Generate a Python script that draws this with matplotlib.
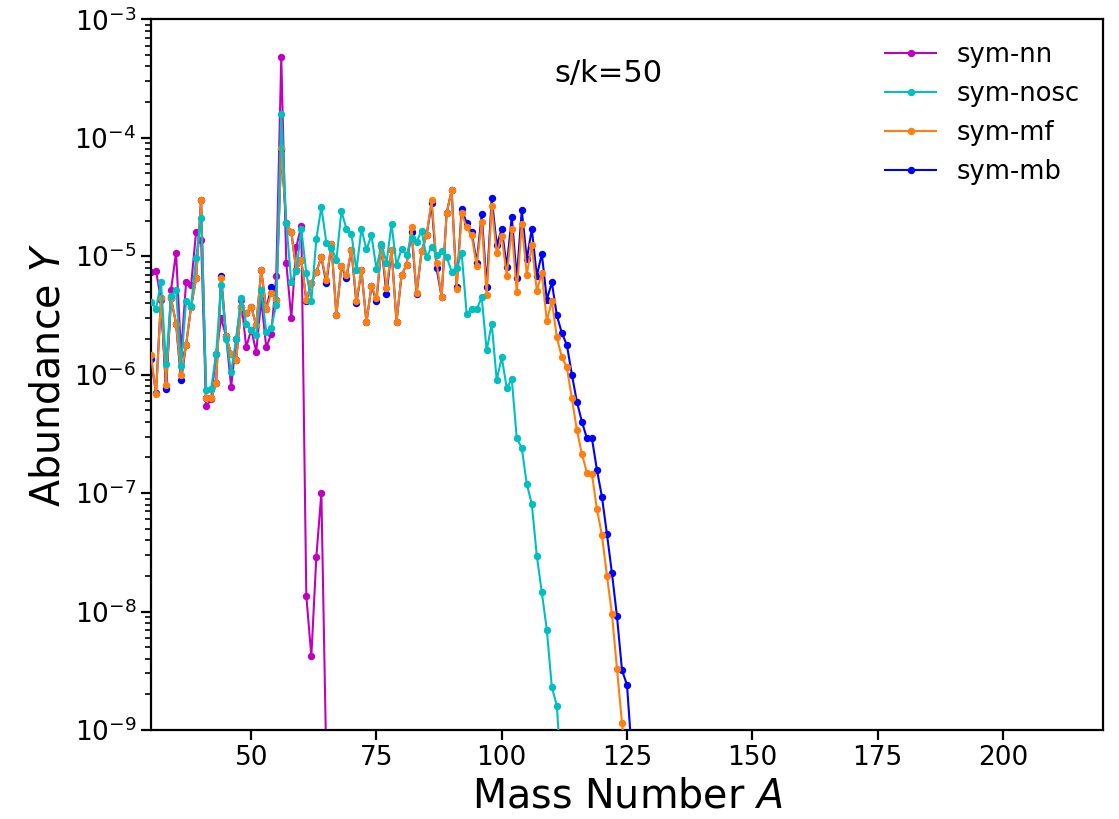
import matplotlib
matplotlib.use("Agg")
import matplotlib.pyplot as plt

# Mass numbers
A_nn = list(range(30, 66))
A_nosc = list(range(30, 113))
A_mf = list(range(30, 126))
A_mb = list(range(30, 127))

Y_nn = [7.3e-6, 7.5e-6, 4.3e-6, 7.7e-7, 5.2e-6, 1.07e-5, 1.5e-6, 6.0e-6, 5.7e-6, 1.6e-5,
        1.37e-5, 5.4e-7, 6.2e-7, 1.5e-6, 3.0e-6, 2.1e-6, 7.9e-7, 2.0e-6, 4.3e-6, 1.7e-6,
        2.4e-6, 1.56e-6, 4.3e-6, 1.7e-6, 2.2e-6, 6.8e-6, 4.8e-4, 8.8e-6, 3.0e-6, 1.2e-5,
        1.8e-5, 1.35e-8, 4.2e-9, 2.9e-8, 1.0e-7, 5e-10]

Y_nosc = [4.13e-6, 3.6e-6, 6.0e-6, 1.22e-6, 4.6e-6, 5.2e-6, 1.18e-6, 4.2e-6, 3.8e-6, 9.7e-6,
          2.1e-5, 7.4e-7, 7.6e-7, 1.5e-6, 5.7e-6, 2.0e-6, 1.05e-6, 2.0e-6, 4.4e-6, 2.7e-6,
          2.4e-6, 2.16e-6, 5.2e-6, 2.3e-6, 2.5e-6, 3.9e-6, 1.6e-4, 1.9e-5, 6.0e-6, 7.5e-6,
          1.7e-5, 7.2e-6, 4.2e-6, 1.4e-5, 2.6e-5, 1.3e-5, 1.18e-5, 9.3e-6, 2.4e-5, 1.7e-5,
          1.54e-5, 7.6e-6, 1.7e-5, 1.14e-5, 1.5e-5, 7.8e-6, 1.27e-5, 8.8e-6, 1.87e-5, 8.4e-6,
          1.15e-5, 1.02e-5, 1.43e-5, 1.33e-5, 1.63e-5, 9.8e-6, 1.2e-5, 1.02e-5, 1.1e-5, 9.9e-6,
          7.4e-6, 8.0e-6, 1.06e-5, 3.25e-6, 3.6e-6, 3.55e-6, 4.5e-6, 1.6e-6, 2.7e-6, 9.0e-7,
          1.4e-6, 7.7e-7, 9.2e-7, 2.9e-7, 2.4e-7, 1.19e-7, 8.1e-8, 2.95e-8, 1.45e-8, 7e-9,
          2.3e-9, 1.6e-9, 3.5e-10]

Y_mf = [1.47e-6, 6.8e-7, 4.4e-6, 8.2e-7, 4.4e-6, 2.7e-6, 9.9e-7, 1.78e-6, 3.75e-6, 6.5e-6,
        3.0e-5, 6.3e-7, 6.3e-7, 8.5e-7, 6.5e-6, 2.1e-6, 1.5e-6, 1.33e-6, 3.75e-6, 3.3e-6,
        3.75e-6, 2.6e-6, 7.6e-6, 3.55e-6, 4.9e-6, 4.3e-6, 8.2e-5, 1.9e-5, 1.6e-5, 7.6e-6,
        9.2e-6, 4.3e-6, 5.9e-6, 7.4e-6, 9.8e-6, 6.3e-6, 1.27e-5, 3.2e-6, 8.2e-6, 6.9e-6,
        1.13e-5, 4.2e-6, 7.6e-6, 2.76e-6, 5.6e-6, 4.4e-6, 1.22e-5, 5.4e-6, 1.13e-5, 2.8e-6,
        6.9e-6, 8.5e-6, 1.75e-5, 4.9e-6, 1.1e-5, 1.5e-5, 3.0e-5, 8.8e-6, 4.55e-6, 2.3e-5,
        3.6e-5, 5.3e-6, 2.3e-5, 1.75e-5, 1.5e-5, 8.3e-6, 1.95e-5, 4.7e-6, 2.65e-5, 1.06e-5,
        1.48e-5, 6.8e-6, 1.7e-5, 4.95e-6, 1.87e-5, 7.0e-6, 1.24e-5, 5.1e-6, 7.2e-6, 2.84e-6,
        4.2e-6, 2.06e-6, 1.4e-6, 1.15e-6, 6.3e-7, 3.4e-7, 2.14e-7, 1.49e-7, 1.45e-7, 7.3e-8,
        4.4e-8, 2.0e-8, 9.5e-9, 3.3e-9, 1.14e-9, 5e-10]

Y_mb = [1.35e-6, 7.0e-7, 4.4e-6, 7.5e-7, 4.4e-6, 2.7e-6, 9.0e-7, 1.78e-6, 3.75e-6, 6.5e-6,
        3.0e-5, 6.3e-7, 6.3e-7, 8.5e-7, 6.8e-6, 2.1e-6, 1.5e-6, 1.33e-6, 3.75e-6, 3.3e-6,
        3.75e-6, 2.6e-6, 7.6e-6, 3.55e-6, 5.5e-6, 4.3e-6, 8.0e-5, 1.9e-5, 1.6e-5, 7.6e-6,
        9.2e-6, 4.2e-6, 5.9e-6, 7.4e-6, 9.8e-6, 5.9e-6, 1.27e-5, 3.2e-6, 8.2e-6, 6.6e-6,
        1.13e-5, 4.0e-6, 7.6e-6, 2.76e-6, 5.6e-6, 4.2e-6, 1.22e-5, 4.8e-6, 1.13e-5, 2.8e-6,
        6.9e-6, 8.5e-6, 1.6e-5, 4.8e-6, 1.1e-5, 1.5e-5, 2.8e-5, 7.9e-6, 4.55e-6, 2.3e-5,
        3.6e-5, 5.5e-6, 2.5e-5, 1.9e-5, 1.6e-5, 8.8e-6, 2.25e-5, 5.5e-6, 3.1e-5, 1.24e-5,
        1.7e-5, 8.1e-6, 2.16e-5, 6.5e-6, 2.45e-5, 9.4e-6, 1.7e-5, 6.8e-6, 1.05e-5, 4.3e-6,
        6.0e-6, 3.16e-6, 2.24e-6, 1.78e-6, 1.0e-6, 5.9e-7, 4.0e-7, 2.9e-7, 2.9e-7, 1.57e-7,
        9.3e-8, 4.5e-8, 2.1e-8, 9.1e-9, 3.2e-9, 2.4e-9, 6e-10]

labels = ["sym-nn", "sym-nosc", "sym-mf", "sym-mb"]
colors = ["#bf00bf", "#00bfbf", "#ff7f0e", "#0000ff"]

fig = plt.figure(figsize=(11.19, 8.19), dpi=100)
ax = fig.add_axes([151 / 1119, 1 - 730 / 819, (1103 - 151) / 1119, (730 - 19.3) / 819])

lw = 1.5
ms = 4.3
h_nn, = ax.plot(A_nn, Y_nn, '-o', color=colors[0], lw=lw, ms=ms, label=labels[0], zorder=2)
h_mb, = ax.plot(A_mb, Y_mb, '-o', color=colors[3], lw=lw, ms=ms, label=labels[3], zorder=3)
h_mf, = ax.plot(A_mf, Y_mf, '-o', color=colors[2], lw=lw, ms=ms, label=labels[2], zorder=4)
h_nosc, = ax.plot(A_nosc, Y_nosc, '-o', color=colors[1], lw=lw, ms=ms, label=labels[1], zorder=5)

ax.set_yscale('log')
ax.set_xlim(30, 220)
ax.set_ylim(1e-9, 1e-3)
ax.set_xticks([50, 75, 100, 125, 150, 175, 200])

ax.tick_params(axis='both', which='major', labelsize=19, length=7, width=1.6)
ax.tick_params(axis='both', which='minor', length=4, width=1.2)
for s in ax.spines.values():
    s.set_linewidth(1.6)

ax.set_xlabel("Mass Number $A$", fontsize=28.5)
ax.set_ylabel("Abundance $Y$", fontsize=28.5)

ax.text(0.48, 0.924, "s/k=50", transform=ax.transAxes, ha='center', va='center', fontsize=22)

ax.legend(handles=[h_nn, h_nosc, h_mf, h_mb], loc='upper right', frameon=False,
          fontsize=18.5, handlelength=2.0)

fig.savefig("out.png", dpi=100)
